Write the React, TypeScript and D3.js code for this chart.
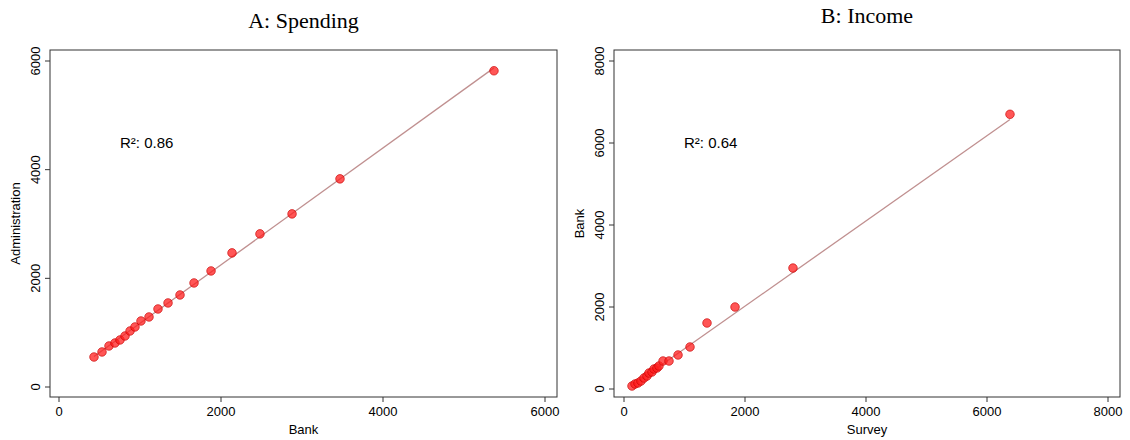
import React from "react";
import * as d3 from "d3";

const spendBank = [432,531,617,691,753,815,877,938,1012,1111,1222,1346,1494,1667,1877,2136,2481,2877,3469,5370];
const spendAdmin = [552,645,755,810,866,939,1031,1105,1215,1289,1436,1547,1694,1915,2136,2468,2818,3186,3831,5820];
const incSurvey = [132,182,231,281,331,380,413,463,496,545,578,645,744,893,1091,1372,1835,2793,6380];
const incBank = [73,122,146,195,268,317,390,415,488,512,561,683,683,830,1025,1610,2000,2950,6700];
const ticks = [0,2000,4000,6000];
const ticksB = [0,2000,4000,6000,8000];
// reported fit for panel B (intercept, slope)
const incomeFit: [number, number] = [-60, 1.04];

type P = { title: string; ty: number; x0: number; x1: number; xs: number[]; ys: number[]; xl: string; yl: string; xt: number[]; yt: number[]; xd: [number,number]; yd: [number,number]; ypx: [number,number]; r2: string; fit: [number,number]; coef?: [number,number] };

const panels: P[] = [
  { title: "A: Spending", ty: 28, x0: 50, x1: 557, xs: spendBank, ys: spendAdmin, xl: "Bank", yl: "Administration", xt: ticks, yt: ticks, xd: [0,6000], yd: [0,6000], ypx: [387,61], r2: "R²: 0.86", fit: [432,5370] },
  { title: "B: Income", ty: 23, x0: 614, x1: 1120, xs: incSurvey, ys: incBank, xl: "Survey", yl: "Bank", xt: ticksB, yt: ticksB, xd: [0,8000], yd: [0,8000], ypx: [389,61], r2: "R²: 0.64", fit: [132,6380], coef: incomeFit },
];

const xPx: Record<string,[number,number]> = { "A: Spending": [59,545], "B: Income": [624,1108] };
const sans = "Liberation Sans, Arial, sans-serif";

function Panel({ p }: { p: P }) {
  const x = d3.scaleLinear().domain(p.xd).range(xPx[p.title]);
  const y = d3.scaleLinear().domain(p.yd).range(p.ypx);
  const n = p.xs.length;
  let a: number, b: number;
  if (p.coef) { [a, b] = p.coef; } else {
    const mx = d3.mean(p.xs)!, my = d3.mean(p.ys)!;
    let sxy = 0, sxx = 0;
    for (let i = 0; i < n; i++) { sxy += (p.xs[i]-mx)*(p.ys[i]-my); sxx += (p.xs[i]-mx)**2; }
    b = sxy / sxx; a = my - b * mx;
  }
  const top = 50, bot = 397;
  const line = d3.line<number>().x(v => x(v)).y(v => y(a + b * v));
  return (
    <g>
      <text x={(p.x0+p.x1)/2} y={p.ty} textAnchor="middle" fontFamily="Liberation Serif, Times New Roman, serif" fontSize={22}>{p.title}</text>
      <rect x={p.x0} y={top} width={p.x1-p.x0} height={bot-top} fill="none" stroke="#333" strokeWidth={1}/>
      {p.xt.map(t => (
        <g key={t}>
          <line x1={x(t)} x2={x(t)} y1={bot} y2={bot+5} stroke="#333"/>
          <text x={x(t)} y={bot+19} textAnchor="middle" fontFamily={sans} fontSize={13}>{t}</text>
        </g>
      ))}
      {p.yt.map(t => (
        <g key={t}>
          <line x1={p.x0} x2={p.x0-5} y1={y(t)} y2={y(t)} stroke="#333"/>
          <text transform={`translate(${p.x0-10},${y(t)}) rotate(-90)`} textAnchor="middle" fontFamily={sans} fontSize={13}>{t}</text>
        </g>
      ))}
      <text x={(p.x0+p.x1)/2} y={434} textAnchor="middle" fontFamily={sans} fontSize={13}>{p.xl}</text>
      <text transform={`translate(${p.x0-30},${(top+bot)/2}) rotate(-90)`} textAnchor="middle" fontFamily={sans} fontSize={13}>{p.yl}</text>
      <path d={line(p.fit)!} stroke="#c09090" strokeWidth={1.3} fill="none"/>
      {p.xs.map((v, i) => (
        <circle key={i} cx={x(v)} cy={y(p.ys[i])} r={4.3} fill="rgba(255,30,30,0.75)" stroke="rgba(200,0,0,0.8)" strokeWidth={0.8}/>
      ))}
      <text x={p.x0+70} y={148} fontFamily={sans} fontSize={15}>{p.r2}</text>
    </g>
  );
}

export default function App() {
  return (
    <svg width={1130} height={440} style={{ position: "absolute", left: 0, top: 0, background: "#fff" }}>
      {panels.map(p => <Panel key={p.title} p={p} />)}
    </svg>
  );
}
